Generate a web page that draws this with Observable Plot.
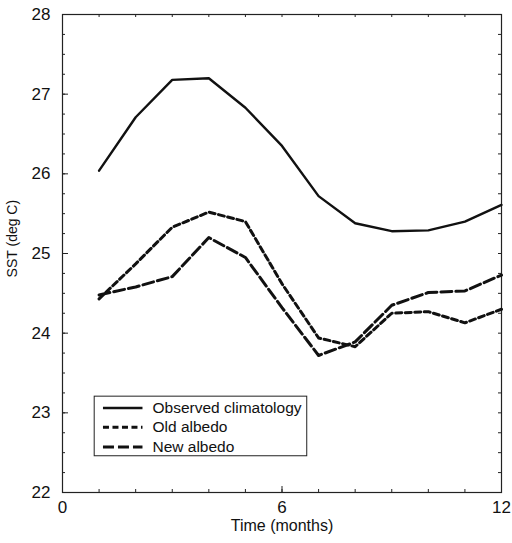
<!DOCTYPE html>
<html>
<head>
<meta charset="utf-8">
<script src="https://cdn.jsdelivr.net/npm/d3@7"></script>
<script src="https://cdn.jsdelivr.net/npm/@observablehq/plot@0.6"></script>
<style>
  html, body { margin: 0; padding: 0; background: #fff; }
</style>
</head>
<body>
<div id="chart"></div>
<script>
const months = [1, 2, 3, 4, 5, 6, 7, 8, 9, 10, 11, 12];
const observed = [26.04, 26.71, 27.18, 27.20, 26.83, 26.35, 25.72, 25.38, 25.28, 25.29, 25.40, 25.61];
const oldAlbedo = [24.43, 24.87, 25.33, 25.52, 25.40, 24.62, 23.94, 23.83, 24.25, 24.27, 24.13, 24.30];
const newAlbedo = [24.48, 24.58, 24.71, 25.20, 24.95, 24.32, 23.72, 23.89, 24.35, 24.51, 24.53, 24.73];

const xTickLabels = [0, 6, 12];
const yTickLabels = [22, 23, 24, 25, 26, 27, 28];
const seriesNames = ["Observed climatology", "Old albedo", "New albedo"];
const seriesDash = [null, "6,3.5", "11,4"];
const seriesWidth = [2.4, 3, 3];
const legendY = [23.06, 22.82, 22.57];

const xMinor = d3.range(0, 13, 1);
const yMinor = d3.range(22, 28.001, 0.25);

const W = 512, H = 543;
const mL = 62, mR = 11, mT = 14, mB = 51;
const fw = W - mL - mR, fh = H - mT - mB;

const series = [observed, oldAlbedo, newAlbedo];
const lineMarks = series.map((vals, i) =>
  Plot.lineY(months.map((m, j) => ({x: m, y: vals[j]})), {
    x: "x", y: "y", stroke: "#111", strokeWidth: seriesWidth[i],
    strokeDasharray: seriesDash[i], strokeLinejoin: "round"
  })
);

const legendRows = seriesNames.map((name, i) => ({name, y: legendY[i], i}));

const chart = Plot.plot({
  width: W, height: H,
  marginLeft: mL, marginRight: mR, marginTop: mT, marginBottom: mB,
  x: {domain: [0, 12]},
  y: {domain: [22, 28]},
  style: {fontFamily: "'Liberation Sans', Arial, Helvetica, sans-serif", background: "#fff", color: "#111"},
  marks: [
    Plot.frame({stroke: "#222", strokeWidth: 1.2}),
    // left ticks
    Plot.tickY(yTickLabels, {y: d => d, insetRight: fw - 6, stroke: "#222"}),
    Plot.tickY(yMinor, {y: d => d, insetRight: fw - 3, stroke: "#222"}),
    // right ticks
    Plot.tickY(yMinor, {y: d => d, insetLeft: fw - 3, stroke: "#222"}),
    // bottom ticks
    Plot.tickX(xMinor, {x: d => d, insetTop: fh - 3, stroke: "#222"}),
    Plot.tickX(xTickLabels, {x: d => d, insetTop: fh - 6, stroke: "#222"}),
    // top ticks
    Plot.tickX(xMinor, {x: d => d, insetBottom: fh - 3, stroke: "#222"}),
    Plot.axisX({ticks: xTickLabels, tickSize: 0, tickPadding: 8, fontSize: 17, label: null, tickFormat: d => String(d)}),
    Plot.axisY({ticks: yTickLabels, tickSize: 0, tickPadding: 12, fontSize: 17, label: null, tickFormat: d => String(d)}),
    ...lineMarks,
    // legend
    Plot.rect([0], {x1: () => 0.88, x2: () => 6.69, y1: () => 22.455, y2: () => 23.203, fill: "#fff", stroke: "#222", strokeWidth: 1}),
    ...legendRows.map(r => Plot.ruleY([r], {y: "y", x1: () => 1.12, x2: () => 2.2, stroke: "#111",
      strokeWidth: seriesWidth[r.i], strokeDasharray: seriesDash[r.i]})),
    Plot.text(legendRows, {x: () => 2.46, y: "y", text: "name", textAnchor: "start", fontSize: 15.5, fill: "#111"}),
    // titles
    Plot.text(["Time (months)"], {frameAnchor: "bottom", dy: 38, text: d => d, fontSize: 16, fill: "#111"}),
    Plot.text(["SST (deg C)"], {frameAnchor: "left", y: () => 24.7, dx: -50, rotate: -90, text: d => d, fontSize: 14, fill: "#111"})
  ]
});
document.getElementById("chart").appendChild(chart);
</script>
</body>
</html>
